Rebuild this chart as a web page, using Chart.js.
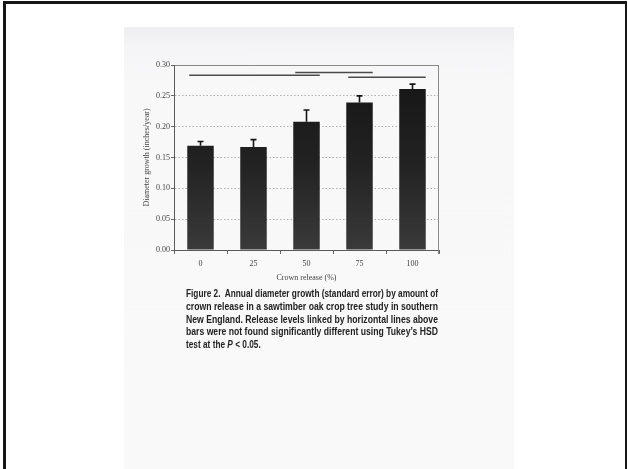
<!DOCTYPE html>
<html>
<head>
<meta charset="utf-8">
<script src="https://cdn.jsdelivr.net/npm/chart.js@4/dist/chart.umd.min.js"></script>
<style>
  html, body { margin: 0; padding: 0; background: #fff; }
  body { width: 628px; height: 469px; position: relative; overflow: hidden; }
  .frame { position: absolute; left: 3px; top: 1px; right: 1px; height: 480px;
           border-top: 3px solid #161616; border-left: 3px solid #161616; border-right: 2px solid #161616; }
  .paper { position: absolute; left: 124px; top: 27px; width: 390px; height: 442px;
           background: linear-gradient(#eeeef1 0px, #f5f5f7 20px, #f8f8f9 60px, #f9f9f9 100%); }
  #chart { position: absolute; left: 0; top: 0; filter: blur(0.35px); }
  .caption { position: absolute; left: 186px; top: 287px; width: 252px;
             font-family: "Liberation Sans Narrow", "Liberation Sans", "DejaVu Sans Condensed", sans-serif;
             font-weight: bold; font-size: 10.8px; color: #222; filter: blur(0.3px); }
  .caption div { height: 12.8px; line-height: 12.8px; white-space: nowrap; transform-origin: 0 50%; }
</style>
</head>
<body>
<div class="frame"></div>
<div class="paper"></div>
<canvas id="chart" width="628" height="469"></canvas>
<div class="caption" id="caption">
  <div>Figure 2.&nbsp; Annual diameter growth (standard error) by amount of</div>
  <div>crown release in a sawtimber oak crop tree study in southern</div>
  <div>New England. Release levels linked by horizontal lines above</div>
  <div>bars were not found significantly different using Tukey’s HSD</div>
  <div>test at the <i>P</i> &lt; 0.05.</div>
</div>
<script>
// Crown release levels (%) and mean annual diameter growth (inches/year)
const releaseLevels = ['0', '25', '50', '75', '100'];
const growthMeans = [0.169, 0.167, 0.208, 0.239, 0.261];
const growthSE = [0.007, 0.012, 0.019, 0.011, 0.008];

// Groups not significantly different (Tukey's HSD): first and last level of each span
const groupStart = ['0', '50', '75'];
const groupEnd = ['50', '75', '100'];
const groupLevel = [0.2833, 0.288, 0.280];

const yTicks = [0, 0.05, 0.10, 0.15, 0.20, 0.25, 0.30];

const serif = '"Liberation Serif", "DejaVu Serif", serif';

// upward standard-error whiskers, significance lines and plot frame
const annotations = {
  id: 'annotations',
  afterDatasetsDraw(chart) {
    const { ctx, chartArea } = chart;
    const y = chart.scales.y;
    const bars = chart.getDatasetMeta(0).data;
    ctx.save();

    // right-hand frame edge
    ctx.strokeStyle = '#8a8a8a';
    ctx.lineWidth = 1;
    ctx.beginPath();
    ctx.moveTo(chartArea.right - 0.5, chartArea.top);
    ctx.lineTo(chartArea.right - 0.5, chartArea.bottom + 4);
    ctx.stroke();

    // error whiskers
    ctx.strokeStyle = '#151515';
    ctx.lineWidth = 1.6;
    bars.forEach((bar, i) => {
      const top = y.getPixelForValue(growthMeans[i] + growthSE[i]);
      ctx.beginPath();
      ctx.moveTo(bar.x, bar.y);
      ctx.lineTo(bar.x, top);
      ctx.moveTo(bar.x - 3, top);
      ctx.lineTo(bar.x + 3, top);
      ctx.stroke();
    });

    // significance lines spanning the linked bars
    ctx.strokeStyle = '#4a4a4a';
    ctx.lineWidth = 1.5;
    groupStart.forEach((start, g) => {
      const a = bars[releaseLevels.indexOf(start)];
      const b = bars[releaseLevels.indexOf(groupEnd[g])];
      const py = y.getPixelForValue(groupLevel[g]);
      ctx.beginPath();
      ctx.moveTo(a.x - a.width / 2 + 2, py);
      ctx.lineTo(b.x + b.width / 2, py);
      ctx.stroke();
    });
    ctx.restore();
  }
};

new Chart(document.getElementById('chart'), {
  type: 'bar',
  data: {
    labels: releaseLevels,
    datasets: [{
      data: growthMeans,
      backgroundColor(context) {
        const area = context.chart.chartArea;
        if (!area) return '#262626';
        const g = context.chart.ctx.createLinearGradient(0, area.top, 0, area.bottom);
        g.addColorStop(0, '#141414');
        g.addColorStop(0.55, '#232323');
        g.addColorStop(1, '#3a3a3a');
        return g;
      },
      borderWidth: 0,
      categoryPercentage: 1,
      barPercentage: 0.5
    }]
  },
  options: {
    responsive: false,
    devicePixelRatio: 1,
    animation: false,
    events: [],
    layout: { padding: { left: 142, top: 65, right: 189, bottom: 186 } },
    plugins: { legend: { display: false }, tooltip: { enabled: false } },
    scales: {
      x: {
        afterFit(scale) { scale.height = 33; },
        grid: { drawOnChartArea: false, drawTicks: true, tickLength: 4, color: '#666', offset: true },
        border: { color: '#5a5a5a', width: 1 },
        ticks: { padding: 5, color: '#444', font: { family: serif, size: 8 } },
        title: { display: true, text: 'Crown release (%)', padding: 0,
                 color: '#444', font: { family: serif, size: 8 } }
      },
      y: {
        min: 0, max: 0.3,
        afterFit(scale) { scale.width = 32; },
        afterBuildTicks(scale) { scale.ticks = yTicks.map(v => ({ value: v })); },
        grid: {
          color(ctx) {
            const v = ctx.tick ? ctx.tick.value : 0;
            if (v >= 0.299) return '#8a8a8a';
            return '#b0b0b0';
          },
          tickColor: '#666',
          tickLength: 3,
          lineWidth: 1
        },
        border: {
          color: '#5a5a5a', width: 1,
          dash(ctx) {
            const v = ctx.tick ? ctx.tick.value : 0;
            return (v > 0.001 && v < 0.299) ? [1.5, 2] : [];
          }
        },
        ticks: {
          padding: 1,
          color: '#444',
          font: { family: serif, size: 8 },
          callback: v => Number(v).toFixed(2)
        },
        title: { display: true, text: 'Diameter growth (inches/year)', padding: 0,
                 color: '#444', font: { family: serif, size: 8 } }
      }
    }
  },
  plugins: [annotations]
});

// justify the caption lines to the column width
(function () {
  const lines = Array.from(document.querySelectorAll('#caption div'));
  const target = 252;
  const widths = lines.map(el => {
    const r = document.createRange();
    r.selectNodeContents(el);
    return r.getBoundingClientRect().width;
  });
  const base = target / widths[0];
  lines.forEach((el, i) => {
    const s = i < lines.length - 1 ? target / widths[i] : base;
    el.style.transform = 'scaleX(' + s + ')';
  });
})();
</script>
</body>
</html>
